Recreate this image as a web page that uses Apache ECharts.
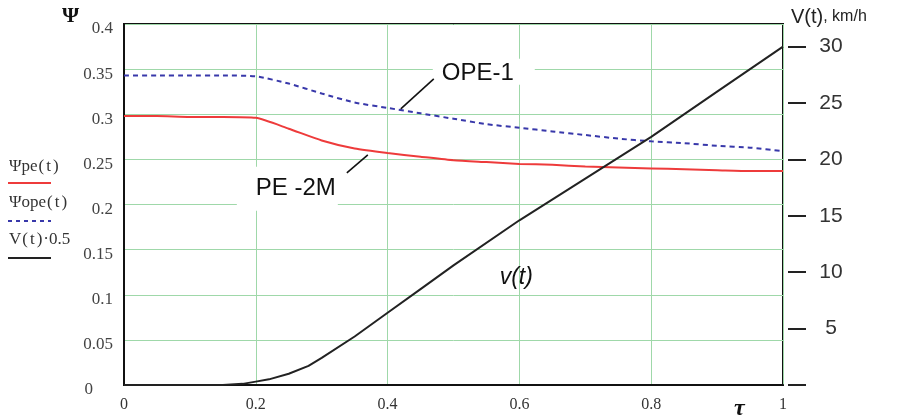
<!DOCTYPE html>
<html><head><meta charset="utf-8">
<script src="https://cdn.jsdelivr.net/npm/echarts@6/dist/echarts.min.js"></script>
<style>html,body{margin:0;padding:0;background:#fff}#c{width:898px;height:419px}</style>
</head><body><div id="c"></div>
<script>
// ---- data ----
const tau    = [0, 0.05, 0.1, 0.15, 0.2, 0.25, 0.3, 0.35, 0.4, 0.45, 0.5, 0.55, 0.6, 0.65, 0.7, 0.75, 0.8, 0.85, 0.9, 0.95, 1.0];
const psiPE  = [0.298, 0.298, 0.297, 0.297, 0.296, 0.284, 0.271, 0.262, 0.257, 0.253, 0.249, 0.247, 0.245, 0.244, 0.242, 0.241, 0.240, 0.239, 0.238, 0.237, 0.237];
const psiOPE = [0.343, 0.343, 0.343, 0.343, 0.342, 0.334, 0.323, 0.313, 0.307, 0.301, 0.295, 0.289, 0.285, 0.281, 0.277, 0.273, 0.270, 0.268, 0.265, 0.263, 0.259];
const tauV   = [0, 0.05, 0.1, 0.15, 0.18, 0.2, 0.22, 0.25, 0.28, 0.3, 0.35, 0.4, 0.45, 0.5, 0.6, 0.7, 0.8, 0.9, 1.0];
const speedV = [0, 0, 0, 0, 0.1, 0.3, 0.5, 1.0, 1.7, 2.4, 4.3, 6.4, 8.5, 10.6, 14.6, 18.3, 22.0, 26.0, 30.0];
const xTicks     = [0, 0.2, 0.4, 0.6, 0.8, 1];
const psiTicks   = [0, 0.05, 0.1, 0.15, 0.2, 0.25, 0.3, 0.35, 0.4];
const speedTicks = [0, 5, 10, 15, 20, 25, 30];
const speedLabels = [5, 10, 15, 20, 25, 30];
const legendNames = ['Ψpe(t)', 'Ψope(t)', 'V(t)·0.5'];
const annotations = { ope: 'OPE-1', pe: 'PE -2M', v: 'v(t)' };

const chart = echarts.init(document.getElementById('c'));
const serif = "'Liberation Serif','DejaVu Serif',serif";
const sans = "'Liberation Sans','DejaVu Sans',sans-serif";
const gridGreen = '#9fd8a9';
const red = '#ee3b3b', blue = '#3838aa', black = '#222';

const option = {
  animation: false,
  backgroundColor: '#fff',
  grid: { left: 124, right: 115, top: 24, bottom: 34, show: true, borderColor: '#111', borderWidth: 2, backgroundColor: 'transparent' },
  xAxis: {
    type: 'value', min: 0, max: 1, interval: 0.2,
    axisLine: { show: true, lineStyle: { color: '#111', width: 2 } },
    axisTick: { show: false },
    splitLine: { show: true, lineStyle: { color: gridGreen, width: 1 } },
    axisLabel: { color: '#333', fontFamily: serif, fontSize: 16, margin: 12,
      customValues: xTicks, formatter: v => String(+v.toFixed(2)) }
  },
  yAxis: [
    {
      type: 'value', min: 0, max: 0.4, interval: 0.05,
      axisLine: { show: true, lineStyle: { color: '#111', width: 2 } },
      axisTick: { show: false },
      splitLine: { show: true, lineStyle: { color: gridGreen, width: 1 } },
      axisLabel: { color: '#444', fontFamily: serif, fontSize: 17, margin: 11, padding: [10, 0, 0, 0],
        customValues: psiTicks,
        formatter: v => v === 0 ? '{z|0}' : String(+v.toFixed(2)),
        rich: { z: { fontFamily: serif, fontSize: 17, color: '#444', padding: [0, 20, 0, 0] } } }
    },
    {
      type: 'value', min: 0, max: 32, position: 'right', offset: 5,
      axisLine: { show: false },
      axisTick: { show: true, inside: false, length: 18, customValues: speedTicks, lineStyle: { color: black, width: 2 } },
      splitLine: { show: false },
      axisLabel: { color: '#333', fontFamily: sans, fontSize: 21, margin: 43, align: 'center',
        customValues: speedLabels }
    }
  ],
  series: [
    { name: legendNames[0], type: 'line', yAxisIndex: 0, showSymbol: false, smooth: 0.2,
      lineStyle: { color: red, width: 2 }, data: tau.map((t, i) => [t, psiPE[i]]), z: 3 },
    { name: legendNames[1], type: 'line', yAxisIndex: 0, showSymbol: false, smooth: 0.2,
      lineStyle: { color: blue, width: 2, type: [5, 4] }, data: tau.map((t, i) => [t, psiOPE[i]]), z: 3 },
    { name: legendNames[2], type: 'line', yAxisIndex: 1, showSymbol: false, smooth: false,
      lineStyle: { color: black, width: 2 }, data: tauV.map((t, i) => [t, speedV[i]]), z: 4 }
  ]
};
chart.setOption(option);

// annotations anchored in data coordinates
const px = (x, y, yi) => chart.convertToPixel({ xAxisIndex: 0, yAxisIndex: yi || 0 }, [x, y]);
const aO = px(0.42, 0.306);
const aP = px(0.37, 0.255);
const aV = px(0.57, 0.12);

const legRich = {
  a: { fontFamily: serif, fontSize: 17, fill: '#333' },
  p: { fontFamily: serif, fontSize: 17, fill: '#333', padding: [0, 1, 0, 1] }
};
const graphic = [
  // axis titles
  { type: 'text', left: 62, top: 5, style: { text: 'Ψ', font: "bold 22px " + serif, fill: '#111' } },
  { type: 'text', left: 734, top: 397, style: { text: 'τ', font: "italic bold 24px " + serif, fill: '#111' } },
  { type: 'text', left: 791, top: 7, style: { text: '{a|V(t)}{b|, km/h}', rich: {
      a: { fontFamily: sans, fontSize: 20, fill: '#222' }, b: { fontFamily: sans, fontSize: 16, fill: '#222' } } } },
  // legend
  { type: 'text', left: 9, top: 158, style: { text: '{a|Ψpe}{p|(}{p|t}{p|)}', rich: legRich } },
  { type: 'line', shape: { x1: 8, y1: 183, x2: 51, y2: 183 }, style: { stroke: red, lineWidth: 2 } },
  { type: 'text', left: 9, top: 194, style: { text: '{a|Ψope}{p|(}{p|t}{p|)}', rich: legRich } },
  { type: 'line', shape: { x1: 8, y1: 221, x2: 51, y2: 221 }, style: { stroke: blue, lineWidth: 2, lineDash: [4, 4] } },
  { type: 'text', left: 9, top: 231, style: { text: '{a|V}{p|(}{p|t}{p|)}{a|·0.5}', rich: legRich } },
  { type: 'line', shape: { x1: 8, y1: 258, x2: 51, y2: 258 }, style: { stroke: black, lineWidth: 2 } },
  // OPE-1 annotation
  { type: 'rect', shape: { x: aO[0] + 32, y: aO[1] - 50, width: 102, height: 26 }, style: { fill: '#fff' }, z: 10 },
  { type: 'line', shape: { x1: aO[0], y1: aO[1], x2: aO[0] + 33, y2: aO[1] - 30 }, style: { stroke: '#111', lineWidth: 1.6 }, z: 11 },
  { type: 'text', x: aO[0] + 41, y: aO[1] - 35, style: { text: annotations.ope, font: "24px " + sans, fill: '#111', verticalAlign: 'middle' }, z: 11 },
  // PE-2M annotation
  { type: 'rect', shape: { x: aP[0] - 131, y: aP[1] + 12, width: 101, height: 44 }, style: { fill: '#fff' }, z: 10 },
  { type: 'line', shape: { x1: aP[0], y1: aP[1], x2: aP[0] - 21, y2: aP[1] + 18 }, style: { stroke: '#111', lineWidth: 1.6 }, z: 11 },
  { type: 'text', x: aP[0] - 112, y: aP[1] + 34, style: { text: annotations.pe, font: "24px " + sans, fill: '#111', verticalAlign: 'middle' }, z: 11 },
  // v(t)
  { type: 'text', x: aV[0], y: aV[1] + 1, style: { text: annotations.v, font: "italic 23px " + sans, fill: '#111', verticalAlign: 'middle' }, z: 11 }
];
chart.setOption({ graphic });
</script></body></html>
